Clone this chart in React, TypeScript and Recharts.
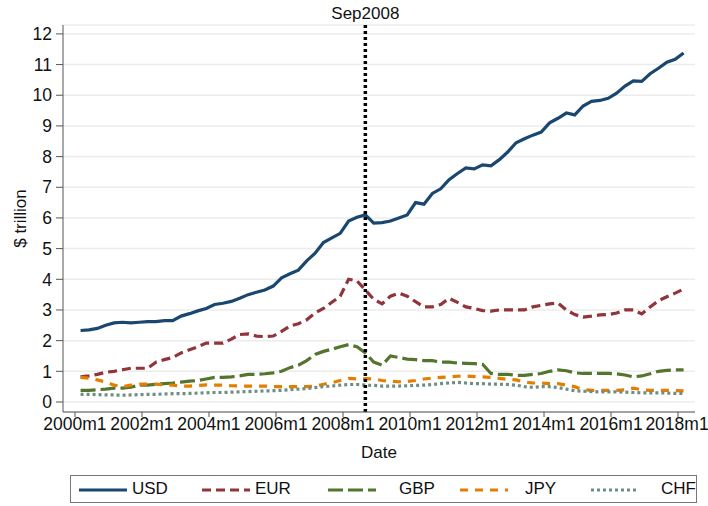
import React from 'react';
import {
  LineChart,
  Line,
  XAxis,
  YAxis,
  CartesianGrid,
  ReferenceLine
} from 'recharts';

// quarterly observations, 2000m3 .. 2018m3
const YEARS = [2000, 2001, 2002, 2003, 2004, 2005, 2006, 2007, 2008, 2009, 2010, 2011, 2012, 2013, 2014, 2015, 2016, 2017, 2018];
const MONTHS = [3, 6, 9, 12];

const USD = [
  2.33, 2.35, 2.4, 2.5,
  2.58, 2.6, 2.58, 2.6,
  2.62, 2.62, 2.65, 2.65,
  2.8, 2.88, 2.97, 3.05,
  3.18, 3.22, 3.28, 3.38,
  3.5, 3.58, 3.65, 3.78,
  4.05, 4.18, 4.3, 4.6,
  4.85, 5.2, 5.35, 5.5,
  5.9, 6.02, 6.1, 5.83,
  5.85, 5.9, 6.0, 6.1,
  6.5, 6.45, 6.8, 6.95,
  7.25, 7.45, 7.63, 7.6,
  7.73, 7.7, 7.9, 8.15,
  8.45, 8.58, 8.7, 8.8,
  9.1, 9.25, 9.42, 9.36,
  9.65, 9.8, 9.83, 9.9,
  10.07, 10.3, 10.47, 10.45,
  10.7, 10.88, 11.08, 11.17,
  11.38
];

const EUR = [
  0.82, 0.85, 0.9, 0.97,
  1.0, 1.05, 1.1, 1.1,
  1.1, 1.3, 1.38, 1.45,
  1.6, 1.7, 1.8, 1.92,
  1.92, 1.92, 2.05, 2.2,
  2.22, 2.15, 2.13, 2.15,
  2.3, 2.48, 2.55, 2.68,
  2.9, 3.05, 3.25, 3.45,
  4.0, 3.95, 3.65, 3.35,
  3.2, 3.45, 3.55, 3.45,
  3.27, 3.1, 3.1, 3.18,
  3.38, 3.25, 3.1, 3.05,
  2.98, 2.96, 3.0, 3.0,
  3.0, 3.0, 3.1, 3.15,
  3.2, 3.23, 3.0, 2.85,
  2.77, 2.8, 2.84, 2.85,
  2.9, 3.0, 3.0, 2.87,
  3.1, 3.3, 3.43, 3.55,
  3.68
];

const GBP = [
  0.38, 0.38, 0.4, 0.42,
  0.45, 0.45, 0.48, 0.55,
  0.55, 0.58, 0.6, 0.62,
  0.65, 0.68, 0.7, 0.75,
  0.8, 0.8, 0.82, 0.85,
  0.9, 0.9, 0.92, 0.95,
  1.0, 1.12, 1.2, 1.35,
  1.55, 1.65, 1.72, 1.8,
  1.87, 1.8, 1.6, 1.3,
  1.2, 1.5, 1.45, 1.4,
  1.38, 1.35, 1.35, 1.3,
  1.3, 1.27, 1.26, 1.25,
  1.23, 0.93, 0.9, 0.9,
  0.87, 0.87, 0.9, 0.93,
  1.0, 1.05, 1.02, 0.95,
  0.93, 0.93, 0.93, 0.93,
  0.92, 0.88, 0.82, 0.85,
  0.92, 1.0, 1.03, 1.05,
  1.05
];

const JPY = [
  0.8, 0.78, 0.72, 0.65,
  0.55, 0.5, 0.55, 0.58,
  0.58, 0.58, 0.56, 0.55,
  0.52, 0.52, 0.54, 0.56,
  0.55, 0.55, 0.53, 0.52,
  0.52, 0.52, 0.52, 0.5,
  0.5, 0.5, 0.5, 0.5,
  0.52, 0.58, 0.63, 0.7,
  0.77, 0.75, 0.76, 0.75,
  0.7, 0.68, 0.66, 0.67,
  0.7, 0.75, 0.78, 0.8,
  0.82, 0.84, 0.85, 0.83,
  0.82, 0.8, 0.77, 0.74,
  0.72, 0.65, 0.62, 0.62,
  0.6, 0.6, 0.55, 0.5,
  0.4, 0.38, 0.38, 0.38,
  0.38, 0.4, 0.45, 0.4,
  0.38, 0.38, 0.38, 0.37,
  0.36
];

const CHF = [
  0.25, 0.25, 0.24, 0.23,
  0.23, 0.22, 0.23, 0.24,
  0.25, 0.25, 0.26, 0.27,
  0.27, 0.28, 0.29, 0.3,
  0.31, 0.31, 0.32, 0.33,
  0.34, 0.35, 0.36, 0.37,
  0.38, 0.4, 0.42, 0.44,
  0.47, 0.5, 0.52, 0.55,
  0.57, 0.57, 0.55, 0.54,
  0.52, 0.52, 0.52, 0.53,
  0.54, 0.55, 0.57, 0.6,
  0.62, 0.64, 0.62, 0.6,
  0.6, 0.58, 0.58, 0.57,
  0.55, 0.5, 0.48, 0.5,
  0.5, 0.47, 0.42, 0.37,
  0.35, 0.34, 0.33, 0.33,
  0.33, 0.32, 0.31, 0.3,
  0.3, 0.3, 0.29, 0.28,
  0.28
];

const X_TICKS = [2000, 2002, 2004, 2006, 2008, 2010, 2012, 2014, 2016, 2018];
const Y_TICKS = [0, 1, 2, 3, 4, 5, 6, 7, 8, 9, 10, 11, 12];
const CRISIS = 2008 + 8 / 12;

const dates: number[] = [];
YEARS.forEach((y) => MONTHS.forEach((m) => dates.push(y + (m - 1) / 12)));

const data = USD.map((v, i) => ({
  t: dates[i],
  USD: v,
  EUR: EUR[i],
  GBP: GBP[i],
  JPY: JPY[i],
  CHF: CHF[i]
}));

const SERIES = [
  { key: 'USD', color: '#1a476f', dash: undefined, x: 78, tx: 131 },
  { key: 'EUR', color: '#90353b', dash: '9 5', x: 201, tx: 254 },
  { key: 'GBP', color: '#55752f', dash: '15 5', x: 327, tx: 398 },
  { key: 'JPY', color: '#e37e00', dash: '8 7', x: 459, tx: 524 },
  { key: 'CHF', color: '#6e8e84', dash: '3 3', x: 590, tx: 660 }
];

const FONT = '"Liberation Sans", Arial, sans-serif';

// x tick label, kept inside the right edge of the picture
const DateTick = ({ x, y, payload }: any) => {
  const cx = Math.min(x, 707 - 30);
  return (
    <text x={cx} y={y} dy="0.71em" textAnchor="middle" fill="#111" fontSize={17.5} fontFamily={FONT}>
      {`${payload.value}m1`}
    </text>
  );
};

export default function App() {
  return (
    <div style={{ position: 'absolute', left: 0, top: 0, width: 708, height: 506, background: '#fff', fontFamily: FONT }}>
      <LineChart
        width={708}
        height={506}
        data={data}
        margin={{ top: 25, right: 13, left: 0, bottom: 0 }}
      >
        <CartesianGrid horizontal vertical={false} stroke="#ececec" strokeWidth={1.5} />
        <XAxis
          type="number"
          dataKey="t"
          domain={[1999.642, 2018.507]}
          ticks={X_TICKS}
          height={94}
          stroke="#555"
          tickSize={5}
          tickMargin={1}
          tick={<DateTick />}
          interval={0}
          label={{ value: 'Date', position: 'insideBottom', offset: 48, fill: '#111', fontSize: 17, fontFamily: FONT }}
        />
        <YAxis
          type="number"
          domain={[-0.326, 12.29]}
          ticks={Y_TICKS}
          width={63}
          stroke="#555"
          tickSize={7}
          tickMargin={4}
          tick={{ fill: '#111', fontSize: 17.5, fontFamily: FONT }}
          interval={0}
          label={{
            value: '$ trillion',
            angle: -90,
            position: 'insideLeft',
            offset: 20,
            fill: '#111',
            fontSize: 17,
            fontFamily: FONT,
            style: { textAnchor: 'middle' }
          }}
        />
        {SERIES.map((s) => (
          <Line
            key={s.key}
            type="linear"
            dataKey={s.key}
            stroke={s.color}
            strokeWidth={3.2}
            strokeDasharray={s.dash}
            dot={false}
            activeDot={false}
            isAnimationActive={false}
          />
        ))}
        <ReferenceLine
          x={CRISIS}
          stroke="#000"
          strokeWidth={3.5}
          strokeDasharray="3 3"
          label={{ value: 'Sep2008', position: 'top', offset: 6, fill: '#111', fontSize: 17, fontFamily: FONT }}
        />
      </LineChart>
      <div
        style={{
          position: 'absolute',
          left: 70,
          top: 475,
          width: 627,
          height: 28,
          border: '1px solid #777',
          boxSizing: 'border-box'
        }}
      >
        {SERIES.map((s) => (
          <React.Fragment key={s.key}>
            <svg style={{ position: 'absolute', left: s.x - 70, top: 12 }} width={50} height={4}>
              <line x1={0} y1={2} x2={48} y2={2} stroke={s.color} strokeWidth={3} strokeDasharray={s.dash} />
            </svg>
            <span style={{ position: 'absolute', left: s.tx - 70, top: 3, fontSize: 17, lineHeight: '20px', color: '#111' }}>
              {s.key}
            </span>
          </React.Fragment>
        ))}
      </div>
    </div>
  );
}
